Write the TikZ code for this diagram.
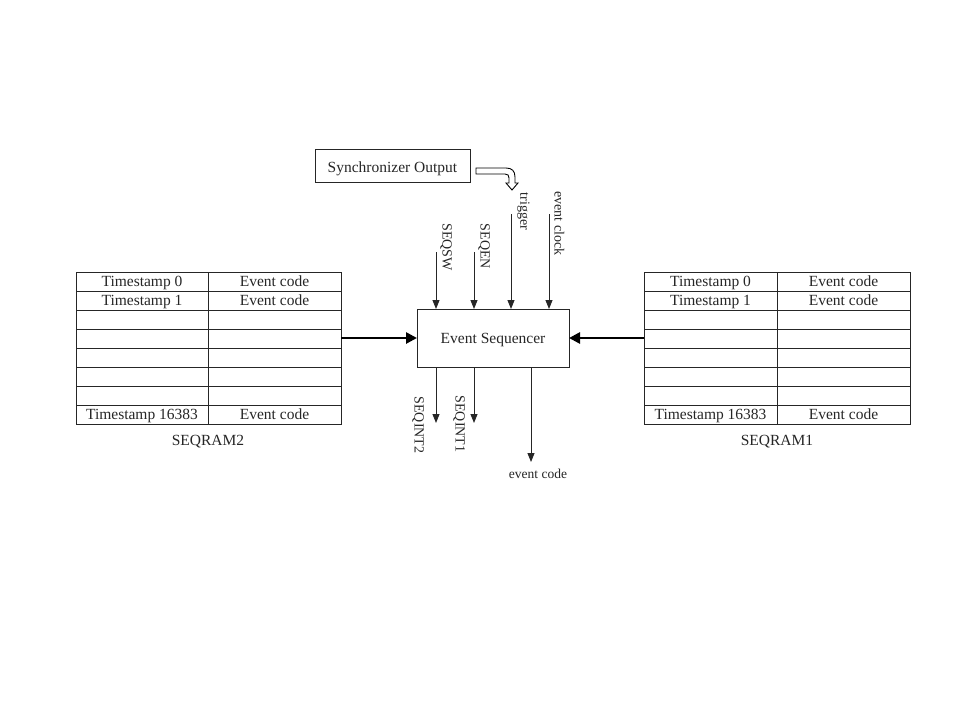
\documentclass[tikz,border=0pt]{standalone}
\usepackage{fontspec}
\setmainfont{Liberation Serif}
\usetikzlibrary{arrows.meta}
\begin{document}
\begin{tikzpicture}[x=1pt,y=-1pt,
  tbl/.style={draw=black!85, line width=0.9pt},
  cell/.style={font=\fontsize{15.5}{18}\selectfont, text=black!85, inner sep=0pt},
  bcell/.style={cell, anchor=base},
  sig/.style={draw=black!85, line width=0.9pt, -{Triangle[length=9pt,width=7pt]}},
  bigarr/.style={draw=black, line width=2.6pt, -{Triangle[length=11pt,width=11pt]}},
  lbl/.style={font=\fontsize{14}{16}\selectfont, text=black!85, inner sep=0pt, rotate=-90},
  box/.style={draw=black!85, line width=0.9pt, fill=white}]
\useasboundingbox (0,0) rectangle (960,720);

% Left table SEQRAM2
\draw[tbl] (76,272) rectangle (341,424);
\foreach \yy in {291,310,329,348,367,386,405} \draw[tbl] (76,\yy) -- (341,\yy);
\draw[tbl] (208,272) -- (208,424);
\node[bcell] (l0a) at (142,286.5) {Timestamp 0};
\node[bcell] (l0b) at (274.5,286.5) {Event code};
\node[bcell] (l1a) at (142,305.5) {Timestamp 1};
\node[bcell] (l1b) at (274.5,305.5) {Event code};
\node[bcell] (l7a) at (142,419.5) {Timestamp 16383};
\node[bcell] (l7b) at (274.5,419.5) {Event code};
\node[bcell] (ram2) at (208,445.5) {SEQRAM2};
\coordinate (ram2out) at (341,338);

% Right table SEQRAM1
\draw[tbl] (644,272) rectangle (910,424);
\foreach \yy in {291,310,329,348,367,386,405} \draw[tbl] (644,\yy) -- (910,\yy);
\draw[tbl] (777,272) -- (777,424);
\node[bcell] (r0a) at (710.5,286.5) {Timestamp 0};
\node[bcell] (r0b) at (843.5,286.5) {Event code};
\node[bcell] (r1a) at (710.5,305.5) {Timestamp 1};
\node[bcell] (r1b) at (843.5,305.5) {Event code};
\node[bcell] (r7a) at (710.5,419.5) {Timestamp 16383};
\node[bcell] (r7b) at (843.5,419.5) {Event code};
\node[bcell] (ram1) at (777,445.5) {SEQRAM1};
\coordinate (ram1out) at (644,338);

% Event sequencer
\draw[box] (417,309) rectangle (569,367);
\node[bcell] (seq) at (493,343) {Event Sequencer};
\coordinate (seqW) at (417,338);
\coordinate (seqE) at (569,338);
\draw[bigarr] (ram2out) -- (seqW);
\draw[bigarr] (ram1out) -- (seqE);

% Inputs
\coordinate (swS) at (436,252);
\coordinate (enS) at (474,252);
\coordinate (trS) at (511,214);
\coordinate (ckS) at (549,214);
\draw[sig] (swS) -- (436,309);
\draw[sig] (enS) -- (474,309);
\draw[sig] (trS) -- (511,309);
\draw[sig] (ckS) -- (549,309);
\node[lbl] (tsw) at (446,247) {SEQSW};
\node[lbl] (ten) at (484,246.5) {SEQEN};
\node[lbl] (ttr) at (523.5,211.5) {trigger};
\node[lbl] (tck) at (559.5,223.5) {event clock};

% Outputs
\coordinate (i2) at (436,423);
\coordinate (i1) at (474,423);
\coordinate (ec) at (531,462);
\draw[sig] (436,367) -- (i2);
\draw[sig] (474,367) -- (i1);
\draw[sig] (531,367) -- (ec);
\node[lbl] (ti2) at (418,425) {SEQINT2};
\node[lbl] (ti1) at (459,424) {SEQINT1};
\node[bcell, font=\fontsize{13.5}{16}\selectfont] (tec) at (538,478.5) {event code};

% Synchronizer output
\draw[box] (315,149) rectangle (470,182);
\node[bcell, font=\fontsize{15.5}{18}\selectfont] (sync) at (392.5,172.5) {Synchronizer Output};
\draw[draw=black, line width=0.9pt, fill=white, line join=miter]
  (476,168) -- (506,168) .. controls (512,168) and (515,171) .. (515,177) -- (515,183)
  -- (518,183) -- (512,190) -- (506,183) -- (509,183) -- (509,178)
  .. controls (509,175.5) and (508,174) .. (505,174) -- (476,174) -- cycle;
\end{tikzpicture}
\end{document}
